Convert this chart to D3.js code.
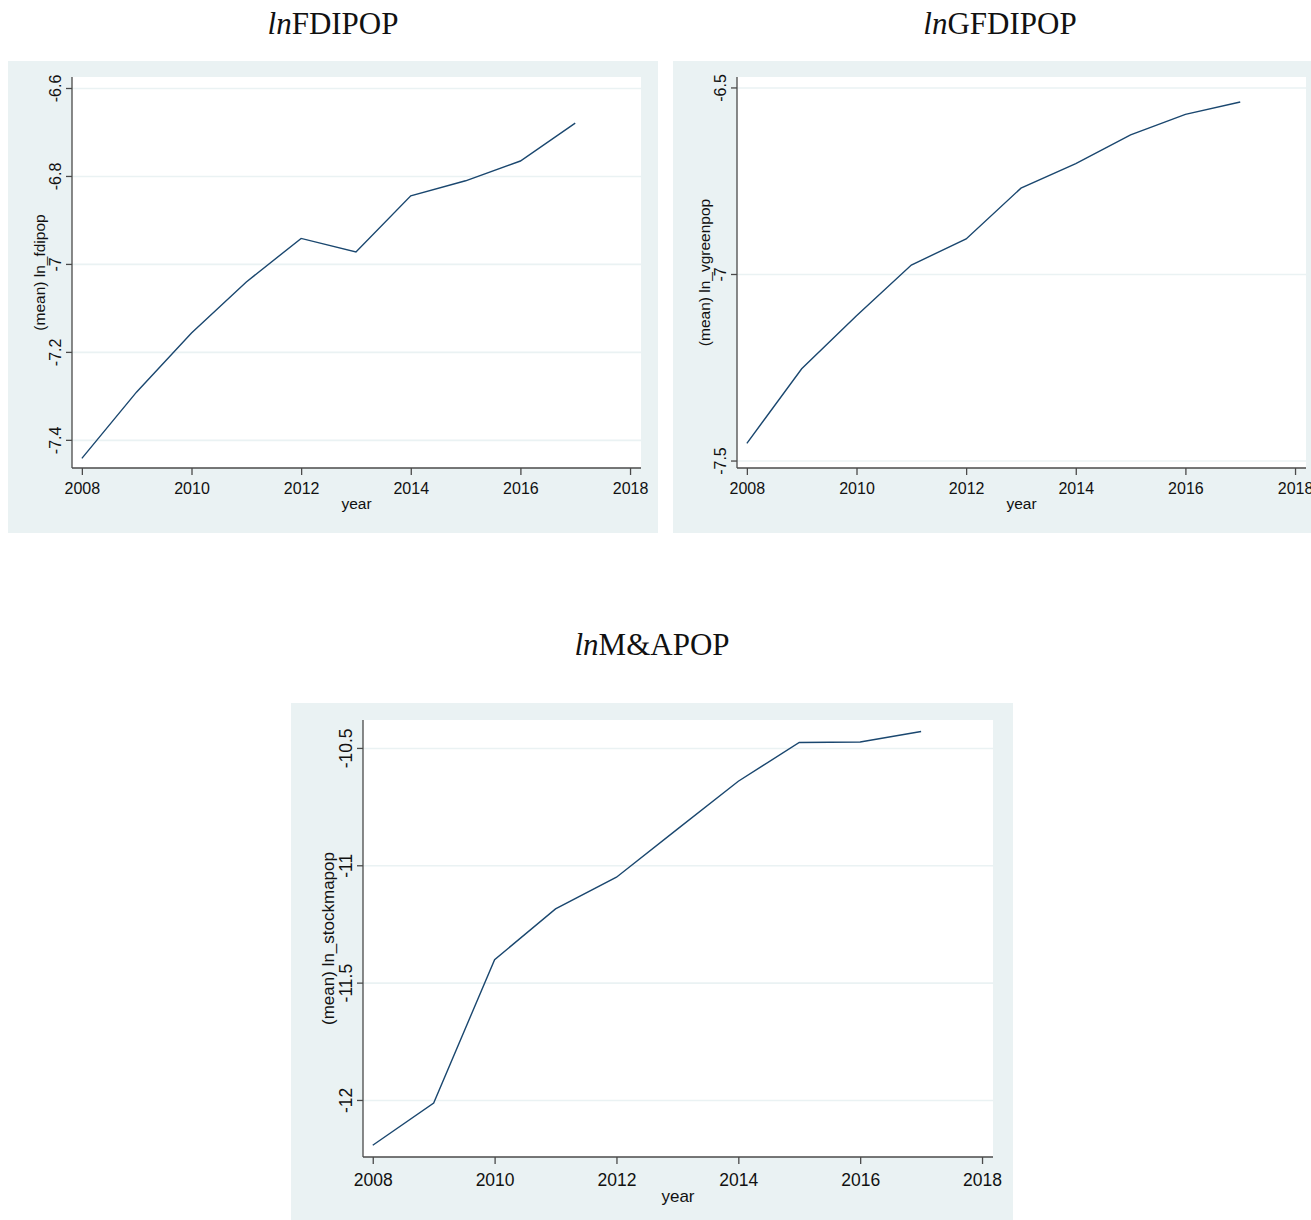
<!DOCTYPE html>
<html>
<head>
<meta charset="utf-8">
<script src="https://cdnjs.cloudflare.com/ajax/libs/d3/7.8.5/d3.min.js"></script>
<style>
  html, body { margin: 0; padding: 0; background: #fff; overflow: hidden; }
  svg { display: block; }
</style>
</head>
<body>
<div id="chart"></div>
<script>
// data
var years = [2008, 2009, 2010, 2011, 2012, 2013, 2014, 2015, 2016, 2017];
var fdipop = [-7.442, -7.291, -7.157, -7.041, -6.942, -6.973, -6.845, -6.811, -6.766, -6.680];
var vgreenpop = [-7.454, -7.254, -7.112, -6.976, -6.906, -6.770, -6.704, -6.627, -6.572, -6.539];
var stockmapop = [-12.193, -12.013, -11.402, -11.186, -11.051, -10.846, -10.642, -10.477, -10.475, -10.430];
var xTicks = [2008, 2010, 2012, 2014, 2016, 2018];
var fdiTicks = [-7.4, -7.2, -7, -6.8, -6.6];
var greenTicks = [-7.5, -7, -6.5];
var maTicks = [-12, -11.5, -11, -10.5];

var bgColor = '#eaf2f3', lineColor = '#1a476f', axisColor = '#4a4a4a';

var svg = d3.select('#chart').append('svg')
  .attr('width', 1311).attr('height', 1220);

function title(x, y, size, rest){
  var t = svg.append('text')
    .attr('x', x).attr('y', y)
    .attr('text-anchor', 'middle')
    .style('font-family', '"Liberation Serif", "Times New Roman", serif')
    .style('font-size', size + 'px')
    .style('fill', '#111');
  t.append('tspan').style('font-style', 'italic').text('ln');
  t.append('tspan').text(rest);
}

function panel(p){
  var g = svg.append('g');
  g.append('rect')
    .attr('x', p.box[0]).attr('y', p.box[1])
    .attr('width', p.box[2]).attr('height', p.box[3])
    .style('fill', bgColor);
  g.append('rect')
    .attr('x', p.left).attr('y', p.top)
    .attr('width', p.right - p.left).attr('height', p.bottom - p.top)
    .style('fill', '#fff');

  var x = d3.scaleLinear().domain(p.xDom).range([p.left, p.right]);
  var y = d3.scaleLinear().domain(p.yDom).range([p.bottom, p.top]);

  // grid
  g.append('g')
    .attr('transform', 'translate(' + p.left + ',0)')
    .call(d3.axisLeft(y).tickValues(p.yTicks).tickSize(-(p.right - p.left)).tickFormat(''))
    .call(function(a){
      a.select('.domain').remove();
      a.selectAll('line').style('stroke', bgColor).style('stroke-width', 1.6);
    });

  var line = d3.line()
    .x(function(d, i){ return x(years[i]); })
    .y(function(d){ return y(d); });
  g.append('path')
    .datum(p.values)
    .attr('d', line)
    .style('fill', 'none')
    .style('stroke', lineColor)
    .style('stroke-width', 1.4);

  var fs = p.font;
  g.append('g')
    .attr('transform', 'translate(0,' + p.bottom + ')')
    .call(d3.axisBottom(x).tickValues(xTicks).tickSize(7).tickSizeOuter(0).tickFormat(d3.format('d')))
    .call(function(a){
      a.select('.domain').attr('d', 'M' + p.left + ',0H' + p.right);
      a.selectAll('path, line').style('stroke', axisColor).style('stroke-width', 1.3);
      a.selectAll('text')
        .attr('y', p.xLabY).attr('dy', 0)
        .style('font-family', '"Liberation Sans", Arial, sans-serif')
        .style('font-size', fs + 'px').style('fill', '#111');
    });

  g.append('g')
    .attr('transform', 'translate(' + p.left + ',0)')
    .call(d3.axisLeft(y).tickValues(p.yTicks).tickSize(6).tickSizeOuter(0).tickFormat(function(d){ return String(d); }))
    .call(function(a){
      a.select('.domain').attr('d', 'M0,' + p.top + 'V' + p.bottom);
      a.selectAll('path, line').style('stroke', axisColor).style('stroke-width', 1.3);
      a.selectAll('text')
        .attr('x', 0).attr('y', -p.yLabX).attr('dy', 0)
        .attr('transform', 'rotate(-90)')
        .attr('text-anchor', 'middle')
        .style('font-family', '"Liberation Sans", Arial, sans-serif')
        .style('font-size', fs + 'px').style('fill', '#111');
    });

  g.append('text')
    .attr('x', (p.left + p.right) / 2).attr('y', p.bottom + p.xTitleY)
    .attr('text-anchor', 'middle')
    .style('font-family', '"Liberation Sans", Arial, sans-serif')
    .style('font-size', (fs - 0.5) + 'px').style('fill', '#111')
    .text('year');

  var cy = (p.top + p.bottom) / 2;
  g.append('text')
    .attr('transform', 'translate(' + (p.left - p.yTitleX) + ',' + cy + ') rotate(-90)')
    .attr('text-anchor', 'middle')
    .style('font-family', '"Liberation Sans", Arial, sans-serif')
    .style('font-size', (fs - 0.5) + 'px').style('fill', '#111')
    .text(p.yTitle);
}

title(333, 34, 31, 'FDIPOP');
title(1000, 34, 31, 'GFDIPOP');
title(652, 655, 31, 'M&APOP');

panel({
  box: [8, 61, 650, 472], left: 72, right: 641, top: 77, bottom: 468,
  xDom: [2007.82, 2018.2], yDom: [-7.464, -6.575],
  yTicks: fdiTicks, values: fdipop, font: 16,
  xLabY: 26, yLabX: 11, xTitleY: 41, yTitleX: 27,
  yTitle: '(mean) ln_fdipop'
});

panel({
  box: [673, 61, 650, 472], left: 737, right: 1306, top: 77, bottom: 468,
  xDom: [2007.82, 2018.2], yDom: [-7.52, -6.472],
  yTicks: greenTicks, values: vgreenpop, font: 16,
  xLabY: 26, yLabX: 11, xTitleY: 41, yTitleX: 27,
  yTitle: '(mean) ln_vgreenpop'
});

panel({
  box: [291, 703, 722, 517], left: 363, right: 993, top: 720, bottom: 1157,
  xDom: [2007.84, 2018.18], yDom: [-12.243, -10.381],
  yTicks: maTicks, values: stockmapop, font: 17.5,
  xLabY: 29, yLabX: 11, xTitleY: 45, yTitleX: 29,
  yTitle: '(mean) ln_stockmapop'
});
</script>
</body>
</html>
